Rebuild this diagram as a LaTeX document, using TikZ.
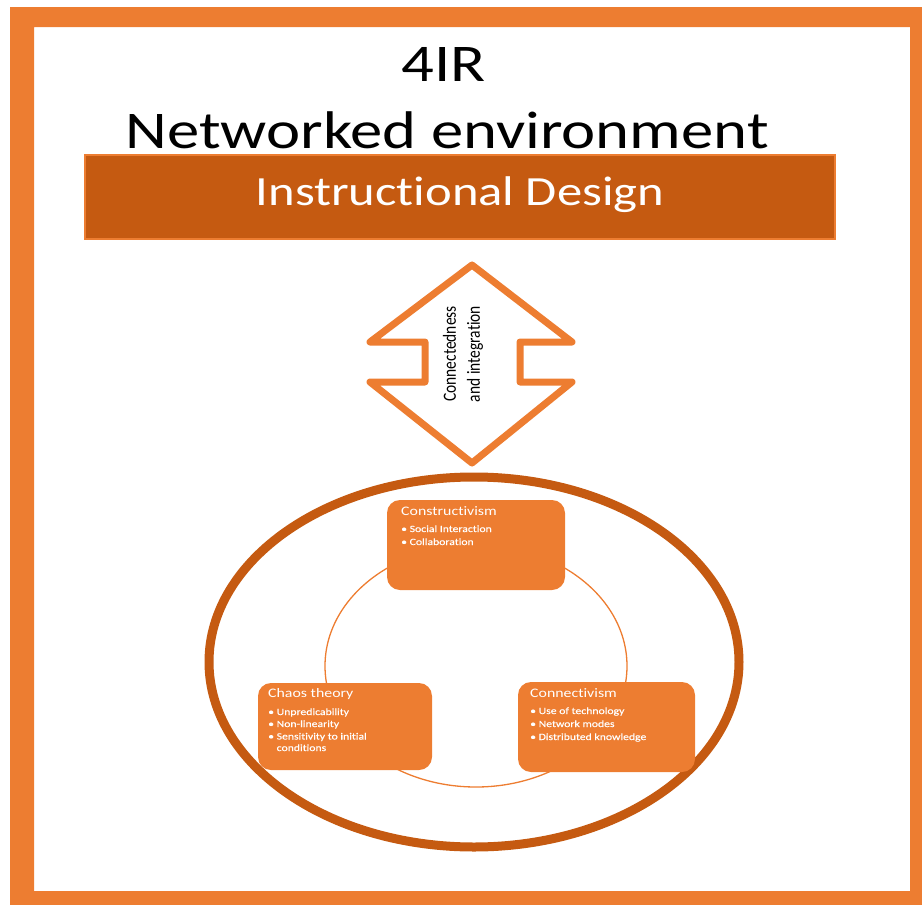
\documentclass[tikz,border=0pt]{standalone}
\usepackage{fontspec}
\setmainfont{Carlito}[RawFeature={-liga}]
\newfontfamily\widecal[FakeStretch=1.22,RawFeature={-liga}]{Carlito}
\newfontfamily\widecalheavy[FakeStretch=1.22,FakeBold=0.3,RawFeature={-liga}]{Carlito}
\usetikzlibrary{calc}
\definecolor{accent}{HTML}{ED7D31}
\definecolor{rust}{HTML}{C55A11}
% bullet with a fixed hanging indent
\newcommand{\blt}{\makebox[8.5pt][l]{\textbullet}}
\begin{document}
\begin{tikzpicture}[x=1pt,y=-1pt,
  heading/.style={inner sep=0pt, anchor=base, text=black,
    font=\widecal\fontsize{53}{60}\selectfont},
  bannerbar/.style={fill=rust, draw=accent, line width=1.2pt,
    minimum width=750pt, minimum height=84pt, inner sep=0pt},
  bannertext/.style={inner sep=0pt, anchor=base, text=white,
    font=\widecal\fontsize{41.5}{48}\selectfont},
  theorybox/.style={fill=accent, rounded corners=13pt, inner sep=0pt},
  boxtitle/.style={inner sep=0pt, anchor=base west, text=white,
    font=\widecal\fontsize{13}{15}\selectfont},
  boxitem/.style={inner sep=0pt, anchor=base west, text=white,
    font=\widecalheavy\fontsize{9.6}{12}\selectfont},
  twoway/.style={draw=accent, fill=white, line width=7pt, line join=round},
]
\useasboundingbox (0,0) rectangle (922,905);

% outer frame
\fill[accent, even odd rule] (10,7) rectangle (922,905) (34,27) rectangle (910,891);

% headings
\node[heading] (ttlfour) at (444,81) {4IR};
\node[heading] (ttlnet) at (447,148) {Networked environment};
\node[bannerbar] (banner) at (460,197) {};
\node[bannertext] (bannerlbl) at (460,205) {Instructional Design};

% two-way arrow
\draw[twoway] (472,265) -- (572,342) -- (520,342) -- (520,382) -- (572,382)
  -- (472,463) -- (370,382) -- (425,382) -- (425,342) -- (370,342) -- cycle;
\node[inner sep=0pt, font=\fontsize{15.5}{20}\selectfont] (arrowlbl) at (463,354)
  {\rotatebox{90}{\scalebox{1}[1.2]{\begin{tabular}{@{}c@{}}Connectedness\\ and integration\end{tabular}}}};

% enclosing ellipse and the ring linking the theories
\draw[rust, line width=9pt] (474,662) ellipse [x radius=265pt, y radius=185pt];
\draw[accent, line width=1.3pt] (476,666) ellipse [x radius=151pt, y radius=121pt];

% theory boxes
\node[theorybox, minimum width=178pt, minimum height=90pt] (constr) at (476,545) {};
\node[theorybox, minimum width=174pt, minimum height=87pt] (chaos) at (345,726.5) {};
\node[theorybox, minimum width=177pt, minimum height=90pt] (connect) at (606.5,727) {};

\node[boxtitle] (constrT) at (401,515) {Constructivism};
\node[boxitem] (constrA) at (401,532) {\blt Social Interaction};
\node[boxitem] (constrB) at (401,545) {\blt Collaboration};

\node[boxtitle] (chaosT) at (268,697) {Chaos theory};
\node[boxitem] (chaosA) at (268,715) {\blt Unpredicability};
\node[boxitem] (chaosB) at (268,727) {\blt Non-linearity};
\node[boxitem] (chaosC) at (268,739.5) {\blt Sensitivity to initial};
\node[boxitem] (chaosD) at (268,751) {\hspace{8.5pt}conditions};

\node[boxtitle] (connectT) at (530,697) {Connectivism};
\node[boxitem] (connectA) at (530,714) {\blt Use of technology};
\node[boxitem] (connectB) at (530,727) {\blt Network modes};
\node[boxitem] (connectC) at (530,740) {\blt Distributed knowledge};
\end{tikzpicture}
\end{document}
